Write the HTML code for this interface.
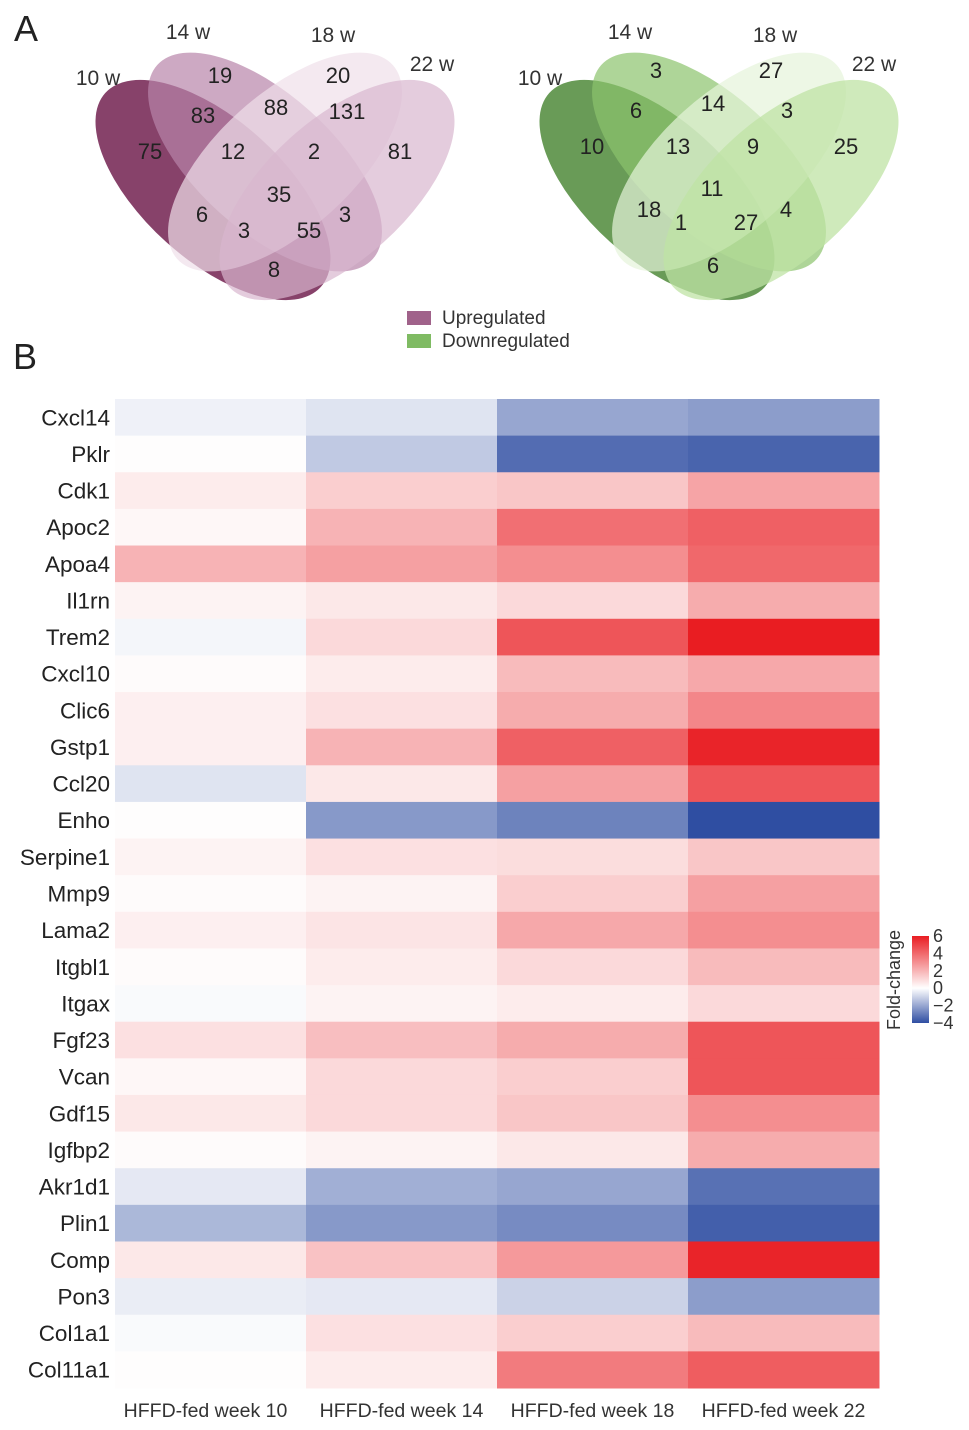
<!DOCTYPE html>
<html><head><meta charset="utf-8"><style>
body{margin:0;background:#fff;font-family:"Liberation Sans",sans-serif;}
svg{display:block}
</style></head><body>
<svg id="fig" width="969" height="1430" viewBox="0 0 969 1430" font-family="Liberation Sans, sans-serif">
<text x="14" y="41" font-size="36" fill="#222">A</text>
<text x="13" y="369" font-size="36" fill="#222">B</text>
<g id="venns"></g>
<g>
<rect x="407" y="311" width="24" height="14" fill="#a0628a"/>
<text x="442" y="324" font-size="19" fill="#333">Upregulated</text>
<rect x="407" y="334" width="24" height="14" fill="#7fbb63"/>
<text x="442" y="347" font-size="19" fill="#333">Downregulated</text>
</g>
<g id="heat"></g>
<defs><linearGradient id="cb" x1="0" y1="1" x2="0" y2="0">
<stop offset="0" stop-color="#2f4ea2"/><stop offset="0.4" stop-color="#ffffff"/><stop offset="1" stop-color="#e91d22"/></linearGradient></defs>
<g id="cbar"></g>
</svg>
<script>
const NS="http://www.w3.org/2000/svg";
function mk(tag,attrs,parent){const e=document.createElementNS(NS,tag);for(const k in attrs)e.setAttribute(k,attrs[k]);parent.appendChild(e);return e;}

// Venn data
const vennSets=["10 w","14 w","18 w","22 w"];
const upCounts=[19,20,83,88,131,75,12,2,81,35,6,3,55,3,8];
const downCounts=[3,27,6,14,3,10,13,9,25,11,18,1,27,4,6];
const regionPos=[[220,75],[338,75],[203,115],[276,107],[347,111],[150,151],[233,151],[314,151],[400,151],[279,194],[202,214],[244,230],[309,230],[345,214],[274,269]];
const downPos=[[212,70],[327,70],[192,110],[269,103],[343,110],[148,146],[234,146],[309,146],[402,146],[268,188],[205,209],[237,222],[302,222],[342,209],[269,265]];
const setLabelPos=[[98,78],[188,32],[333,35],[432,64]];
const venns=document.getElementById('venns');
function drawVenn(dx,colors,ops,counts,pos,name){
  const g=mk('g',{transform:`translate(${dx},0)`},venns);
  
  
  const cx=[213,265,285,337],cy=[190,162,162,190],rot=[42,42,-42,-42],rx=[145,145,145,145],ry=[70,68,68,70];
  for(let i=0;i<4;i++){
    const e=mk('ellipse',{cx:0,cy:0,rx:rx[i],ry:ry[i],fill:colors[i],'fill-opacity':ops[i],transform:`translate(${cx[i]},${cy[i]}) rotate(${rot[i]})`},g);
    
    
  }
  for(let i=0;i<4;i++){
    const t=mk('text',{x:setLabelPos[i][0]+(dx?-2:0),y:setLabelPos[i][1]+7,'font-size':21,fill:'#333','text-anchor':'middle'},g);
    t.textContent=vennSets[i];
    
    
  }
  counts.forEach((c,i)=>{
    const t=mk('text',{x:pos[i][0],y:pos[i][1]+8,'font-size':22,fill:'#222','text-anchor':'middle'},g);
    t.textContent=c;
    
    
  });
}
drawVenn(0,['#7a2e5a','#b884aa','#efe0ea','#d8b6cf'],[0.9,0.7,0.7,0.7],upCounts,regionPos,'venn-upregulated');
drawVenn(444,['#4f8a3a','#8cc36c','#e6f4da','#bfe3a4'],[0.85,0.7,0.7,0.75],downCounts,downPos,'venn-downregulated');

// Heatmap data
const genes=["Cxcl14","Pklr","Cdk1","Apoc2","Apoa4","Il1rn","Trem2","Cxcl10","Clic6","Gstp1","Ccl20","Enho","Serpine1","Mmp9","Lama2","Itgbl1","Itgax","Fgf23","Vcan","Gdf15","Igfbp2","Akr1d1","Plin1","Comp","Pon3","Col1a1","Col11a1"];
const weeks=["HFFD-fed week 10","HFFD-fed week 14","HFFD-fed week 18","HFFD-fed week 22"];
const wk10=[-0.3,0.05,0.5,0.2,2.0,0.3,-0.2,0.1,0.4,0.4,-0.6,0.05,0.3,0.1,0.4,0.1,-0.1,0.8,0.2,0.6,0.1,-0.5,-1.6,0.6,-0.4,-0.1,0.05];
const wk14=[-0.6,-1.2,1.3,2.0,2.5,0.6,1.0,0.5,0.8,2.0,0.6,-2.3,0.8,0.3,0.7,0.5,0.3,1.7,1.0,1.0,0.3,-1.8,-2.3,1.6,-0.5,0.8,0.5];
const wk18=[-2.0,-3.3,1.5,3.8,3.0,1.0,4.5,1.8,2.2,4.2,2.5,-2.8,0.9,1.3,2.3,1.0,0.5,2.2,1.3,1.5,0.6,-2.0,-2.6,2.7,-1.0,1.3,3.5];
const wk22=[-2.2,-3.5,2.4,4.2,4.0,2.2,6.0,2.3,3.2,5.8,4.5,-4.0,1.5,2.5,3.0,1.8,1.0,4.5,4.5,3.0,2.2,-3.2,-3.6,5.8,-2.2,1.8,4.3];
const series=[wk10,wk14,wk18,wk22];
const cbTicks=[6,4,2,0,-2,-4];

const x0=115,x1=879,y0=399,y1=1388;
const colW=(x1-x0)/weeks.length,rowH=(y1-y0)/genes.length;
const xPos=i=>x0+i*colW, yPos=j=>y0+j*rowH;
function color(v){
  let r,g,b;
  if(v>=0){const t=Math.min(v/6,1);r=255+(233-255)*t;g=255+(29-255)*t;b=255+(34-255)*t;}
  else{const t=Math.min(-v/4,1);r=255+(47-255)*t;g=255+(78-255)*t;b=255+(162-255)*t;}
  return `rgb(${r|0},${g|0},${b|0})`;
}
const heat=document.getElementById('heat');


series.forEach((vals,i)=>{
  vals.forEach((v,j)=>{
    const r=mk('rect',{x:xPos(i),y:yPos(j),width:colW+0.5,height:rowH+0.5,fill:color(v)},heat);
    
    
  });
});
genes.forEach((gname,j)=>{
  const t=mk('text',{x:110,y:yPos(j)+rowH/2+8,'font-size':22.5,fill:'#222','text-anchor':'end'},heat);
  t.textContent=gname;
  
  
});
weeks.forEach((w,i)=>{
  const t=mk('text',{x:xPos(i)+colW/2-(i===0?5:0),y:1417,'font-size':19.5,fill:'#333','text-anchor':'middle'},heat);
  t.textContent=w;
  
  
});

// colorbar
const cb=document.getElementById('cbar');
const cbY=v=>936+(6-v)*8.7;
const bar=mk('rect',{x:912,y:cbY(6),width:17,height:cbY(-4)-cbY(6),fill:'url(#cb)'},cb);


cbTicks.forEach(v=>{
  const t=mk('text',{x:933,y:cbY(v)+6,'font-size':18,fill:'#333'},cb);
  t.textContent=v<0?'\u2212'+(-v):v;
  
  
});
const ct=mk('text',{x:0,y:0,'font-size':18,fill:'#333','text-anchor':'middle',transform:'translate(900,980) rotate(-90)'},cb);
ct.textContent='Fold-change';


</script>
</body></html>
